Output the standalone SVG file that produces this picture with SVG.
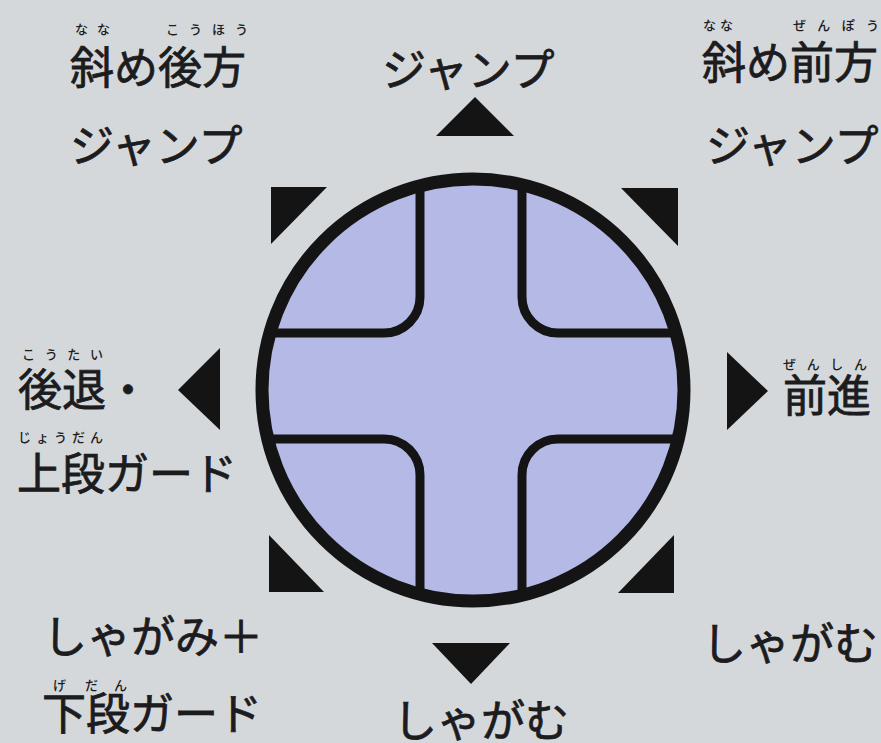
<svg xmlns="http://www.w3.org/2000/svg" width="881" height="743" viewBox="0 0 881 743">
  <defs>
    <style>
      .lbl { font-family: "Noto Sans CJK JP", "Noto Sans", sans-serif; font-size: 44px; font-weight: 400; fill: #1c1c1e; stroke: #1c1c1e; stroke-width: 0.8; }
      .ruby { font-family: "Noto Sans CJK JP", "Noto Sans", sans-serif; font-size: 13px; font-weight: 500; fill: #1c1c1e; }
      .arrow { fill: #141414; }
      .seam { fill: none; stroke: #141414; stroke-width: 9; stroke-linecap: butt; }
    </style>
    <clipPath id="pad-clip">
      <circle cx="473" cy="390" r="211"/>
    </clipPath>
  </defs>

  <rect width="881" height="743" fill="#d5d8da"/>

  <g id="dpad">
    <circle cx="473" cy="390" r="211" fill="#b4b9e5"/>
    <g clip-path="url(#pad-clip)">
      <path class="seam" d="M 420 150 V 297 A 36 36 0 0 1 384 333 H 240"/>
      <path class="seam" d="M 522 150 V 297 A 36 36 0 0 0 558 333 H 700"/>
      <path class="seam" d="M 420 630 V 475 A 36 36 0 0 0 384 439 H 240"/>
      <path class="seam" d="M 522 630 V 475 A 36 36 0 0 1 558 439 H 700"/>
    </g>
    <circle cx="473" cy="390" r="211" fill="none" stroke="#141414" stroke-width="13"/>
  </g>

  <g id="arrows">
    <polygon class="arrow" points="475,97 514,136 436,136"/>
    <polygon class="arrow" points="432,643 510,643 471,684"/>
    <polygon class="arrow" points="178,390 220,348 220,430"/>
    <polygon class="arrow" points="727,352 768,391 727,430"/>
    <polygon class="arrow" points="271,187 327,187 271,244"/>
    <polygon class="arrow" points="621,188 678,188 678,246"/>
    <polygon class="arrow" points="269,535 324,592 269,592"/>
    <polygon class="arrow" points="674,535 674,593 618,593"/>
  </g>

  <g id="label-up-back">
    <text class="ruby" x="75" y="34" textLength="35" lengthAdjust="spacing">なな</text>
    <text class="ruby" x="166" y="34" textLength="82" lengthAdjust="spacing">こうほう</text>
    <text class="lbl" x="70" y="84">斜め後方</text>
    <text class="lbl" x="70" y="162">ジャンプ</text>
  </g>

  <g id="label-up">
    <text class="lbl" x="382" y="86">ジャンプ</text>
  </g>

  <g id="label-up-forward">
    <text class="ruby" x="703" y="30" textLength="30" lengthAdjust="spacing">なな</text>
    <text class="ruby" x="793" y="30" textLength="86" lengthAdjust="spacing">ぜんぽう</text>
    <text class="lbl" x="702" y="79">斜め前方</text>
    <text class="lbl" x="706" y="162">ジャンプ</text>
  </g>

  <g id="label-back">
    <text class="ruby" x="22" y="359" textLength="81" lengthAdjust="spacing">こうたい</text>
    <text class="lbl" x="18" y="406">後退・</text>
    <text class="ruby" x="18" y="442" textLength="85" lengthAdjust="spacing">じょうだん</text>
    <text class="lbl" x="17" y="490">上段ガード</text>
  </g>

  <g id="label-forward">
    <text class="ruby" x="783" y="369" textLength="84" lengthAdjust="spacing">ぜんしん</text>
    <text class="lbl" x="783" y="412">前進</text>
  </g>

  <g id="label-down-back">
    <text class="lbl" x="43" y="653">しゃがみ＋</text>
    <text class="ruby" x="53" y="690">げ</text>
    <text class="ruby" x="85" y="690" textLength="42" lengthAdjust="spacing">だん</text>
    <text class="lbl" x="42" y="730">下段ガード</text>
  </g>

  <g id="label-down">
    <text class="lbl" x="393" y="737">しゃがむ</text>
  </g>

  <g id="label-down-forward">
    <text class="lbl" x="702" y="660">しゃがむ</text>
  </g>
</svg>
